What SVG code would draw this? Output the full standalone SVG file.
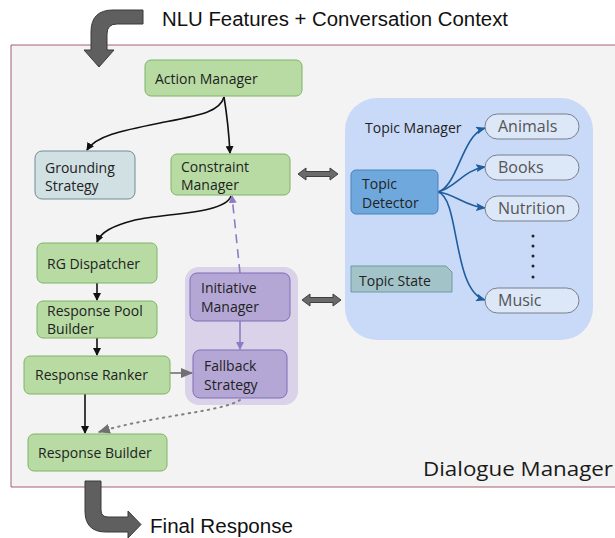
<svg xmlns="http://www.w3.org/2000/svg" width="615" height="538" viewBox="0 0 615 538">
<style>
.n{font-family:"Open Sans","Noto Sans",sans-serif;font-size:14px;fill:#222}
.p{font-family:"Open Sans","Noto Sans",sans-serif;font-size:16px;fill:#555}
.g{fill:#b7dba3;stroke:#7fb466;stroke-width:1}
.pu{fill:#b4a7d6;stroke:#7e6db5;stroke-width:1}
.pill{fill:#dce7f8;stroke:#7a7f88;stroke-width:1}
.big{fill:#5f5f5f;stroke:#3a3a3a;stroke-width:1}
.dbl{fill:#6a6a6a;stroke:#3f3f3f;stroke-width:1}
.blk{fill:none;stroke:#111;stroke-width:1.6}
.blu{fill:none;stroke:#1f5d9e;stroke-width:1.6}
.lab{font-family:"Liberation Sans",Arial,sans-serif;font-size:20px;fill:#111}
</style>
<defs>
<marker id="ab" markerWidth="8" markerHeight="8" refX="7" refY="4" orient="auto" markerUnits="userSpaceOnUse"><path d="M0,0 L8,4 L0,8 Z" fill="#111"/></marker>
<marker id="abl" markerWidth="10" markerHeight="8" refX="9" refY="4" orient="auto" markerUnits="userSpaceOnUse"><path d="M0,0 L10,4 L0,8 L2,4 Z" fill="#1f5d9e"/></marker>
<marker id="ap" markerWidth="8" markerHeight="8" refX="7" refY="4" orient="auto" markerUnits="userSpaceOnUse"><path d="M0,0 L8,4 L0,8 Z" fill="#8e7cc3"/></marker>
<marker id="ag" markerWidth="12" markerHeight="10" refX="11" refY="5" orient="auto" markerUnits="userSpaceOnUse"><path d="M0,0 L12,5 L0,10 Z" fill="#707070"/></marker>
</defs>
<rect width="615" height="538" fill="#ffffff"/>
<g id="dialogue-manager">
<path d="M700,45 L11,45 L11,487 L700,487" fill="#f3f3f3" stroke="#a3606e" stroke-width="1"/>
<text x="423" y="476" textLength="190" lengthAdjust="spacingAndGlyphs" style="font-family:'Open Sans','Noto Sans',sans-serif;font-size:20px;fill:#1a1a1a">Dialogue Manager</text>
</g>
<g id="topic-manager">
<rect x="345" y="98" width="248" height="242" rx="32" fill="#c9daf8"/>
<text class="n" x="365" y="133">Topic Manager</text>
</g>
<g id="initiative-region">
<rect x="185" y="267" width="113" height="138" rx="14" fill="#d9d2e9"/>
</g>
<g id="io">
<path class="big" d="M143,10 L113,10 Q91,10 91,32 L91,50 L84,50 L99,67 L114,50 L107,50 L107,34 Q107,24 117,24 L143,24 Z"/>
<text class="lab" x="162" y="26" textLength="346" lengthAdjust="spacingAndGlyphs">NLU Features + Conversation Context</text>
<path class="big" d="M85,481 L101,481 L101,510 Q101,517 108,517 L128,517 L128,511 L141,524.5 L128,538 L128,532 L106,532 Q85,532 85,511 Z"/>
<text class="lab" x="150" y="533" textLength="143" lengthAdjust="spacingAndGlyphs">Final Response</text>
</g>
<g id="connectors">
<path class="blk" d="M224,97 C227,115 229,135 230,153" marker-end="url(#ab)"/>
<path class="blk" d="M224,97 C220,112 200,115 160,123 C120,131 96,136 87,150" marker-end="url(#ab)"/>
<path class="blk" d="M231,196 C225,214 165,213 135,220 C112,226 101,232 97,242" marker-end="url(#ab)"/>
<path class="blk" d="M97,283 L97,300" marker-end="url(#ab)"/>
<path class="blk" d="M97,338 L97,355" marker-end="url(#ab)"/>
<path class="blk" d="M85,394 L85,433" marker-end="url(#ab)"/>
<path d="M170,373 L192,373" fill="none" stroke="#707070" stroke-width="1.6" marker-end="url(#ag)"/>
<path d="M240,400 C222,412 150,416 99,432" fill="none" stroke="#808080" stroke-width="2" stroke-dasharray="1.5,5" stroke-linecap="round" marker-end="url(#ag)"/>
<path d="M240,273 L232,196" fill="none" stroke="#8e7cc3" stroke-width="1.6" stroke-dasharray="9,6" marker-end="url(#ap)"/>
<path d="M240,321 L240,349" fill="none" stroke="#8e7cc3" stroke-width="1.6" marker-end="url(#ap)"/>
<path class="blu" d="M438,192 C458,186 462,135 485,128" marker-end="url(#abl)"/>
<path class="blu" d="M438,192 C456,188 463,170 485,167" marker-end="url(#abl)"/>
<path class="blu" d="M438,192 C455,194 465,206 485,208" marker-end="url(#abl)"/>
<path class="blu" d="M438,192 C460,198 452,290 485,300" marker-end="url(#abl)"/>
<path class="dbl" d="M298,174 L306,168 L306,171.5 L330,171.5 L330,168 L338,174 L330,180 L330,176.5 L306,176.5 L306,180 Z"/>
<path class="dbl" d="M302,300 L310,294 L310,297.5 L333,297.5 L333,294 L341,300 L333,306 L333,302.5 L310,302.5 L310,306 Z"/>
</g>
<g id="action-manager"><rect class="g" x="145" y="60" width="157" height="36" rx="6"/><text class="n" x="155" y="84">Action Manager</text></g>
<g id="grounding-strategy"><rect x="35" y="151" width="100" height="48" rx="7" fill="#d0e0e3" stroke="#6f8c95"/><text class="n" x="45" y="173">Grounding</text><text class="n" x="45" y="191">Strategy</text></g>
<g id="constraint-manager"><rect class="g" x="171" y="154" width="119" height="41" rx="6"/><text class="n" x="181" y="172">Constraint</text><text class="n" x="181" y="190">Manager</text></g>
<g id="rg-dispatcher"><rect class="g" x="37" y="243" width="120" height="40" rx="6"/><text class="n" x="47" y="269">RG Dispatcher</text></g>
<g id="response-pool-builder"><rect class="g" x="37" y="301" width="120" height="37" rx="6"/><text class="n" x="47" y="316">Response Pool</text><text class="n" x="47" y="334">Builder</text></g>
<g id="response-ranker"><rect class="g" x="24" y="356" width="146" height="38" rx="6"/><text class="n" x="35" y="380">Response Ranker</text></g>
<g id="response-builder"><rect class="g" x="28" y="434" width="139" height="37" rx="6"/><text class="n" x="38" y="458">Response Builder</text></g>
<g id="initiative-manager"><rect class="pu" x="190" y="273" width="100" height="48" rx="7"/><text class="n" x="201" y="293">Initiative</text><text class="n" x="201" y="312">Manager</text></g>
<g id="fallback-strategy"><rect class="pu" x="193" y="350" width="94" height="48" rx="7"/><text class="n" x="204" y="371">Fallback</text><text class="n" x="204" y="390">Strategy</text></g>
<g id="topic-detector"><rect x="351" y="170" width="87" height="44" rx="5" fill="#6fa8dc" stroke="#4a80bd"/><text class="n" x="362" y="189">Topic</text><text class="n" x="362" y="208">Detector</text></g>
<g id="topic-state"><path d="M351,266 L446,266 L452,272 L452,292 L351,292 Z" fill="#a2c4c9" stroke="#6f9aa0"/><text class="n" x="359" y="286">Topic State</text></g>
<g id="animals"><rect class="pill" x="485" y="114" width="94" height="25" rx="12.5"/><text class="p" x="498" y="132">Animals</text></g>
<g id="books"><rect class="pill" x="485" y="155" width="94" height="25" rx="12.5"/><text class="p" x="498" y="173">Books</text></g>
<g id="nutrition"><rect class="pill" x="485" y="196" width="94" height="25" rx="12.5"/><text class="p" x="498" y="214">Nutrition</text></g>
<g id="ellipsis" fill="#222"><circle cx="533" cy="236" r="1.5"/><circle cx="533" cy="246" r="1.5"/><circle cx="533" cy="256" r="1.5"/><circle cx="533" cy="266" r="1.5"/><circle cx="533" cy="277" r="1.5"/></g>
<g id="music"><rect class="pill" x="485" y="288" width="94" height="25" rx="12.5"/><text class="p" x="498" y="306">Music</text></g>
</svg>
